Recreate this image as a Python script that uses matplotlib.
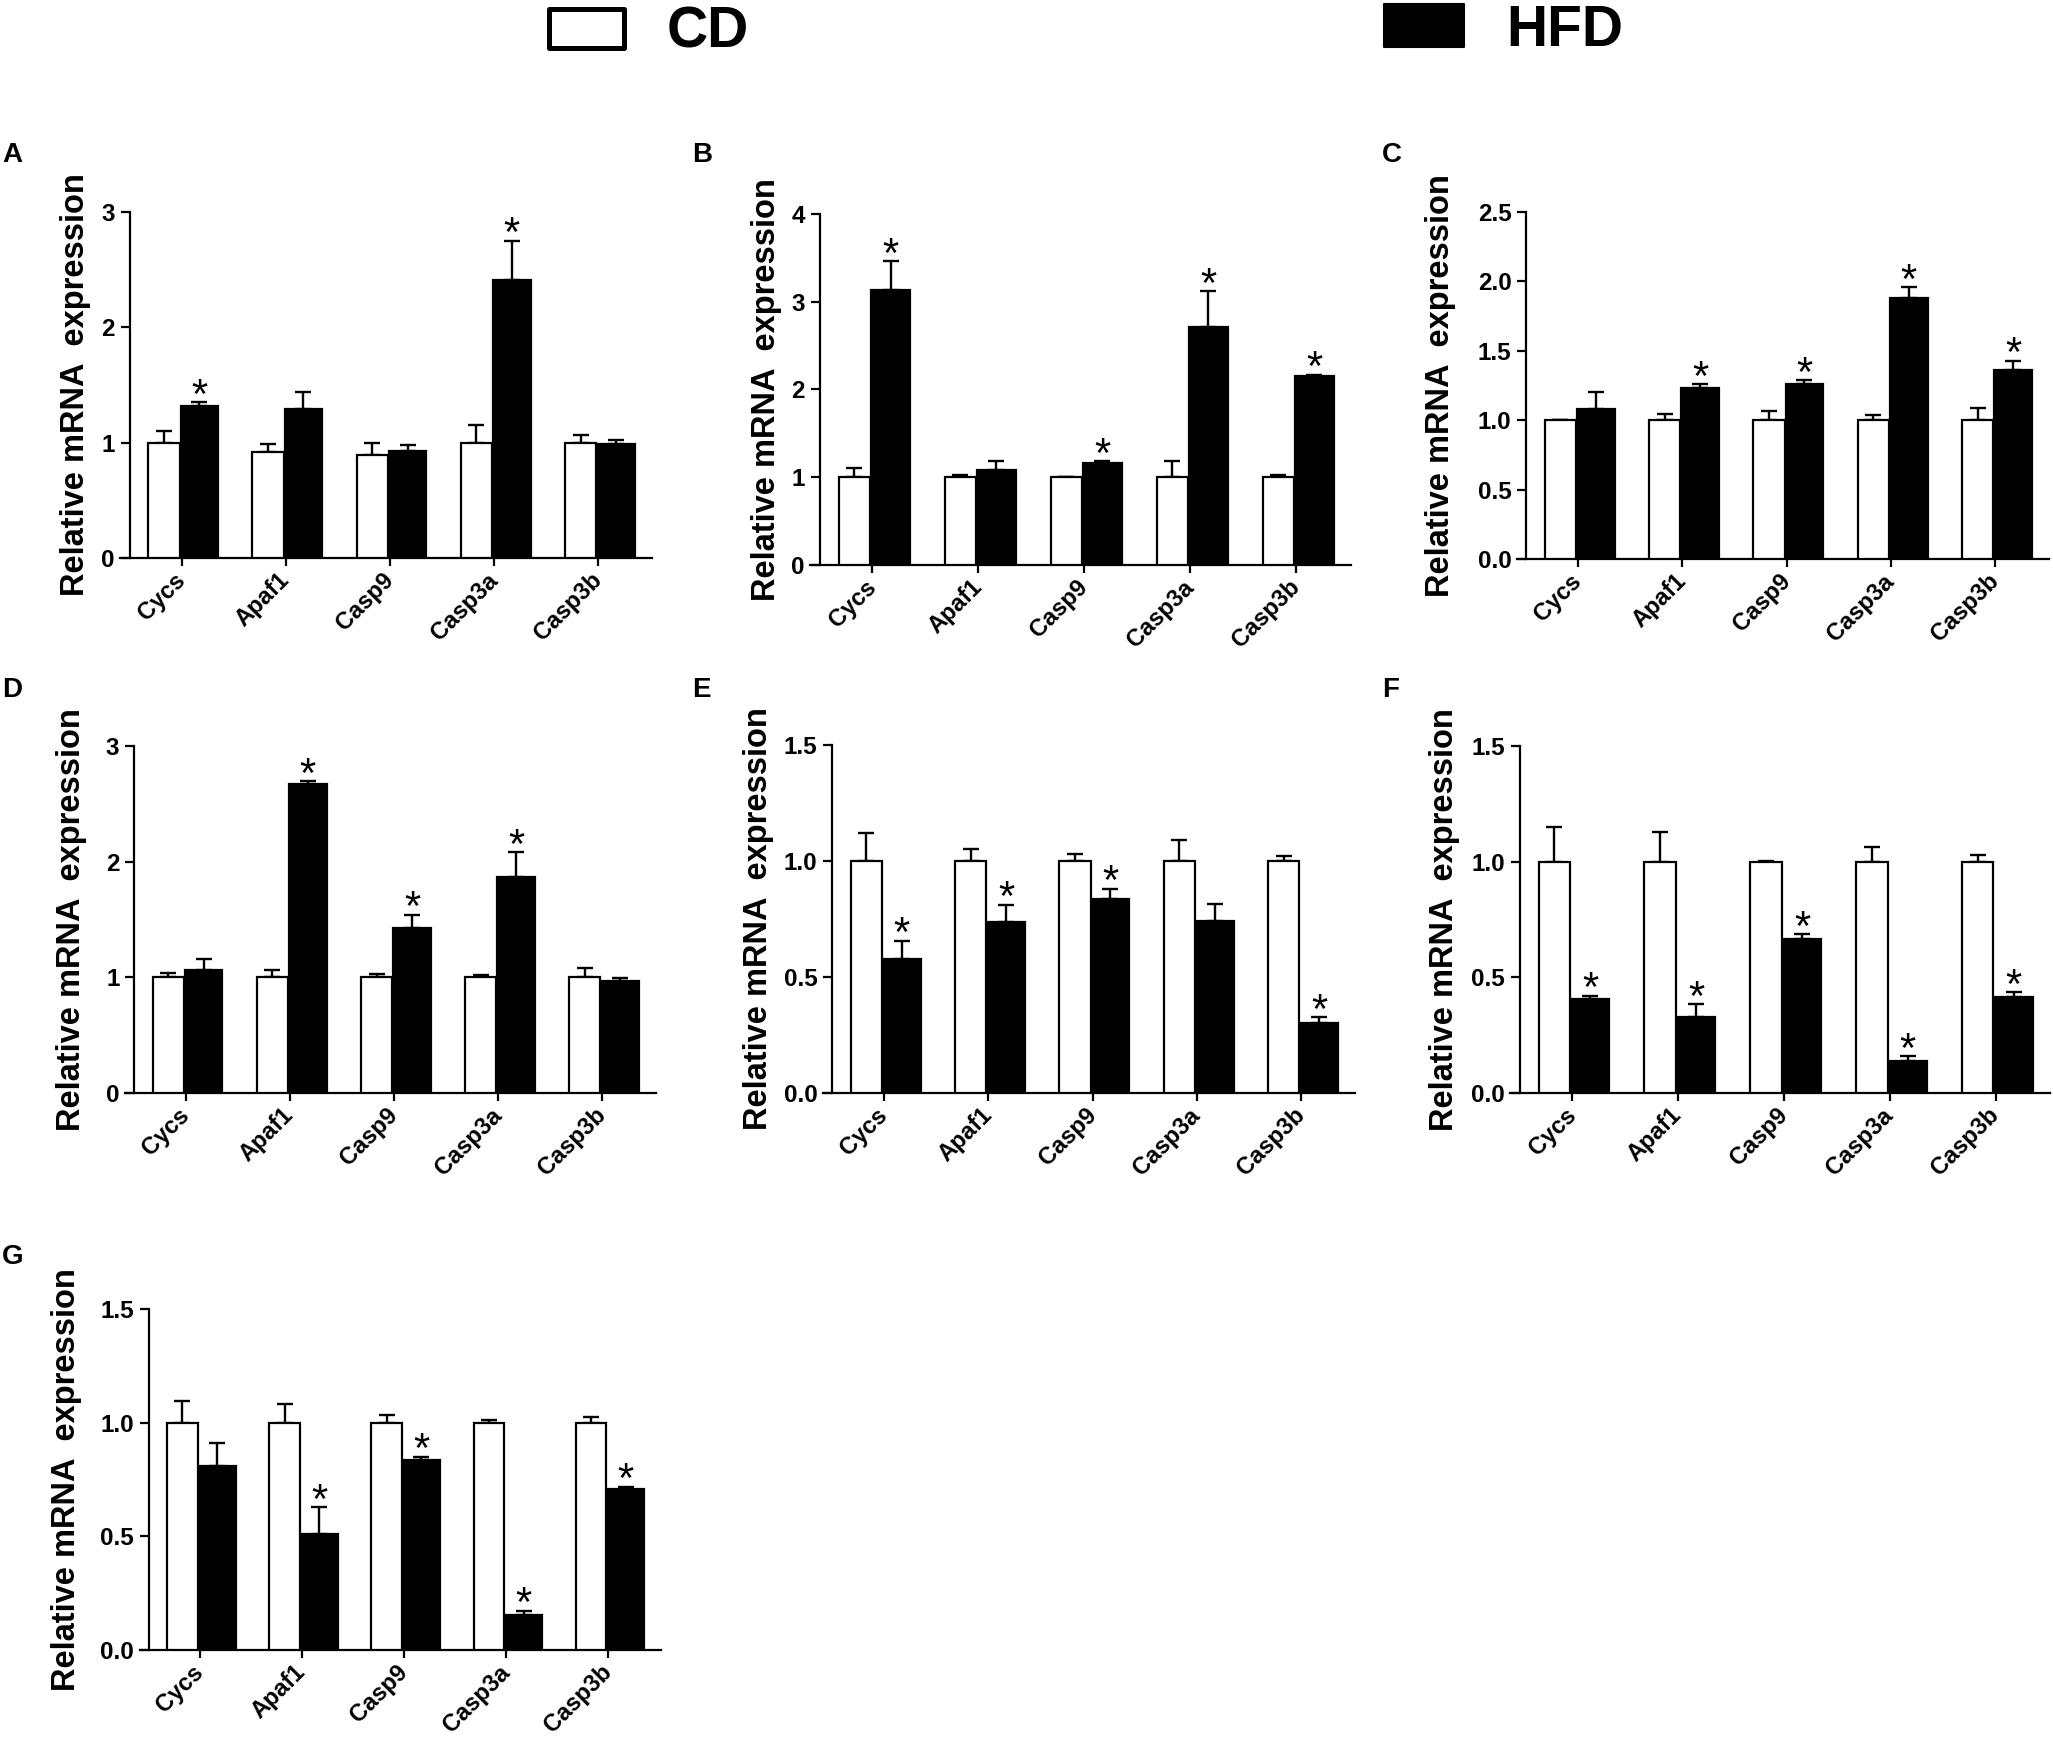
import matplotlib
matplotlib.use("Agg")
import matplotlib.pyplot as plt
import matplotlib.transforms as mtransforms
from matplotlib.patches import Rectangle
import numpy as np

plt.rcParams['font.family'] = ['Liberation Sans', 'DejaVu Sans']

genes = ['Cycs', 'Apaf1', 'Casp9', 'Casp3a', 'Casp3b']

# panel A
cd_A = [1.00, 0.92, 0.89, 1.00, 1.00]
cd_err_A = [0.10, 0.07, 0.11, 0.15, 0.07]
hfd_A = [1.32, 1.29, 0.93, 2.41, 0.99]
hfd_err_A = [0.03, 0.15, 0.05, 0.34, 0.03]
star_A = [1, 0, 0, 1, 0]

# panel B
cd_B = [1.00, 1.00, 1.00, 1.00, 1.00]
cd_err_B = [0.11, 0.03, 0.00, 0.18, 0.03]
hfd_B = [3.13, 1.08, 1.16, 2.71, 2.15]
hfd_err_B = [0.33, 0.10, 0.02, 0.41, 0.02]
star_B = [1, 0, 1, 1, 1]

# panel C
cd_C = [1.00, 1.00, 1.00, 1.00, 1.00]
cd_err_C = [0.005, 0.045, 0.065, 0.04, 0.09]
hfd_C = [1.08, 1.23, 1.26, 1.88, 1.36]
hfd_err_C = [0.12, 0.03, 0.03, 0.08, 0.07]
star_C = [0, 1, 1, 1, 1]

# panel D
cd_D = [1.00, 1.00, 1.00, 1.00, 1.00]
cd_err_D = [0.04, 0.065, 0.03, 0.02, 0.08]
hfd_D = [1.065, 2.67, 1.43, 1.87, 0.97]
hfd_err_D = [0.095, 0.025, 0.11, 0.21, 0.02]
star_D = [0, 1, 1, 1, 0]

# panel E
cd_E = [1.00, 1.00, 1.00, 1.00, 1.00]
cd_err_E = [0.12, 0.05, 0.03, 0.09, 0.02]
hfd_E = [0.577, 0.736, 0.835, 0.74, 0.30]
hfd_err_E = [0.08, 0.075, 0.045, 0.075, 0.027]
star_E = [1, 1, 1, 0, 1]

# panel F
cd_F = [1.00, 1.00, 1.00, 1.00, 1.00]
cd_err_F = [0.15, 0.13, 0.005, 0.063, 0.03]
hfd_F = [0.406, 0.327, 0.667, 0.137, 0.417]
hfd_err_F = [0.014, 0.057, 0.02, 0.021, 0.018]
star_F = [1, 1, 1, 1, 1]

# panel G
cd_G = [1.00, 1.00, 1.00, 1.00, 1.00]
cd_err_G = [0.096, 0.08, 0.035, 0.013, 0.025]
hfd_G = [0.81, 0.51, 0.837, 0.154, 0.707]
hfd_err_G = [0.10, 0.118, 0.014, 0.019, 0.012]
star_G = [0, 1, 1, 1, 1]

W, H = 2053, 1744
fig = plt.figure(figsize=(W / 100, H / 100), dpi=100)

# letter, data, ymax, ystep, fmt, (yaxis_x, xend, top, bottom) px, ylabel x px, letter pos px
panels = [
    ('A', cd_A, cd_err_A, hfd_A, hfd_err_A, star_A, 3, 1, '{:.0f}', (129.5, 652, 212, 558), 76, (2, 155)),
    ('B', cd_B, cd_err_B, hfd_B, hfd_err_B, star_B, 4, 1, '{:.0f}', (819.5, 1351, 214, 565), 766, (692, 155)),
    ('C', cd_C, cd_err_C, hfd_C, hfd_err_C, star_C, 2.5, 0.5, '{:.1f}', (1526, 2049, 212, 559), 1441, (1382, 155)),
    ('D', cd_D, cd_err_D, hfd_D, hfd_err_D, star_D, 3, 1, '{:.0f}', (134, 656, 746, 1093), 72, (2, 690)),
    ('E', cd_E, cd_err_E, hfd_E, hfd_err_E, star_E, 1.5, 0.5, '{:.1f}', (832, 1355, 745, 1093), 758, (692, 690)),
    ('F', cd_F, cd_err_F, hfd_F, hfd_err_F, star_F, 1.5, 0.5, '{:.1f}', (1519.5, 2050, 746, 1093), 1445, (1382, 690)),
    ('G', cd_G, cd_err_G, hfd_G, hfd_err_G, star_G, 1.5, 0.5, '{:.1f}', (148.7, 661, 1309, 1650), 67, (2, 1257)),
]

x0, x1, spine_x = -0.59, 4.515, -0.5
shift = mtransforms.ScaledTranslation(4 / 100, -3 / 100, fig.dpi_scale_trans)

for letter, cd, cd_err, hfd, hfd_err, star, ymax, ystep, fmt, box, ylab_x, lpos in panels:
    yx, xe, top, bot = box
    unit = (xe - yx) / (x1 - spine_x)
    left = yx - (spine_x - x0) * unit
    ax = fig.add_axes([left / W, 1 - bot / H, (xe - left) / W, (bot - top) / H])
    x = np.arange(len(genes))
    xc = x - 0.17
    xh = x + 0.17
    ax.bar(xc, cd, 0.30, color='white', edgecolor='black', linewidth=1.6, zorder=3)
    ax.bar(xh, hfd, 0.36, color='black', edgecolor='black', linewidth=1.6, zorder=3)
    ax.errorbar(xc, cd, yerr=[np.zeros(5), cd_err], fmt='none', ecolor='black',
                elinewidth=1.7, capsize=5.5, capthick=1.7, zorder=2)
    ax.errorbar(xh, hfd, yerr=[np.zeros(5), hfd_err], fmt='none', ecolor='black',
                elinewidth=1.7, capsize=5.5, capthick=1.7, zorder=2)
    for i in range(5):
        if star[i]:
            ax.annotate('*', xy=(xh[i], hfd[i] + hfd_err[i]), xytext=(0, -4),
                        textcoords='offset points', ha='center', va='baseline',
                        fontsize=30, zorder=4)
    ax.set_xlim(x0, x1)
    ax.set_ylim(0, ymax)
    ax.spines['top'].set_visible(False)
    ax.spines['right'].set_visible(False)
    ax.spines['left'].set_position(('data', spine_x))
    ax.spines['left'].set_linewidth(1.6)
    ax.spines['bottom'].set_linewidth(1.6)
    yt = np.arange(0, ymax + ystep / 2, ystep)
    ax.set_yticks(yt)
    ax.set_yticklabels([fmt.format(v) for v in yt], fontsize=17.5, fontweight='bold')
    ax.set_xticks(x)
    ax.set_xticklabels(genes, fontsize=17, fontweight='bold', rotation=45,
                       ha='right', va='center', rotation_mode='anchor')
    for lab in ax.get_xticklabels():
        lab.set_transform(lab.get_transform() + shift)
    ax.tick_params(axis='y', direction='out', length=6.5, width=1.6, pad=4)
    ax.tick_params(axis='x', direction='out', length=5.5, width=1.6, pad=8)
    ax.patch.set_visible(False)

    fig.text(ylab_x / W, 1 - (top + bot) / 2 / H, 'Relative mRNA  expression',
             rotation=90, ha='center', va='center', fontsize=23.5, fontweight='bold')
    fig.text(lpos[0] / W, 1 - lpos[1] / H, letter, ha='left', va='center',
             fontsize=20, fontweight='bold')


# legend at the top
def px_rect(x_a, y_a, x_b, y_b, **kw):
    return Rectangle((x_a / W, 1 - y_b / H), (x_b - x_a) / W, (y_b - y_a) / H,
                     transform=fig.transFigure, **kw)


fig.patches.append(px_rect(548.5, 9.5, 623.5, 48.5, facecolor='white', edgecolor='black',
                           linewidth=3.6, joinstyle='round'))
fig.patches.append(px_rect(1384, 4, 1464, 47, facecolor='black', edgecolor='black',
                           linewidth=1.5, joinstyle='round'))
fig.text(667 / W, 1 - 48 / H, 'CD', ha='left', va='baseline', fontsize=41, fontweight='bold')
fig.text(1506 / W, 1 - 46 / H, 'HFD', ha='left', va='baseline', fontsize=41, fontweight='bold')

fig.savefig('out.png', dpi=100, facecolor='white')
